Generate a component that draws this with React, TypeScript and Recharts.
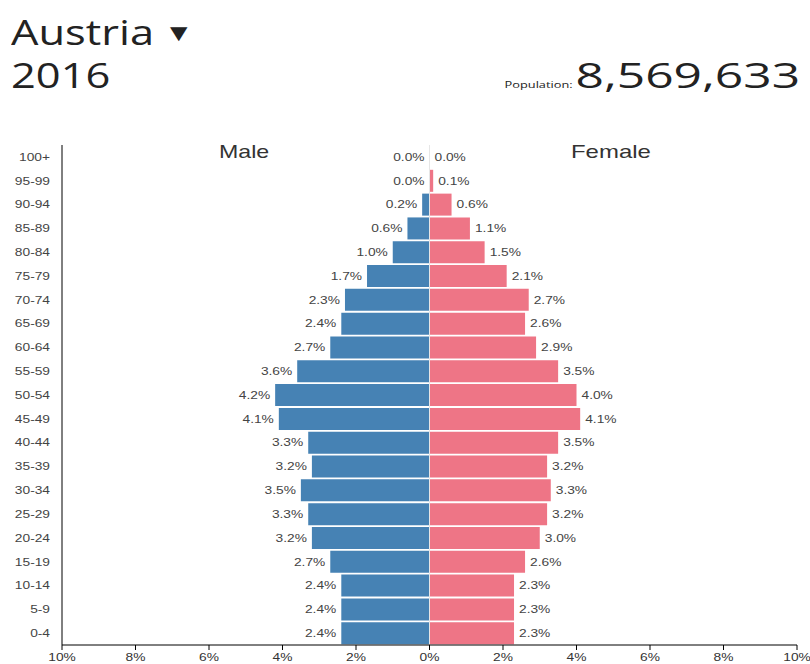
import React from "react";
import {
  ComposedChart,
  Bar,
  Line,
  XAxis,
  YAxis,
  ReferenceLine,
  LabelList,
} from "recharts";

const ageGroups = [
  "100+", "95-99", "90-94", "85-89", "80-84", "75-79", "70-74", "65-69", "60-64",
  "55-59", "50-54", "45-49", "40-44", "35-39", "30-34", "25-29", "20-24", "15-19",
  "10-14", "5-9", "0-4",
];
const maleValues = [
  0.0, 0.0, 0.2, 0.6, 1.0, 1.7, 2.3, 2.4, 2.7, 3.6, 4.2, 4.1, 3.3, 3.2, 3.5, 3.3, 3.2,
  2.7, 2.4, 2.4, 2.4,
];
const femaleValues = [
  0.0, 0.1, 0.6, 1.1, 1.5, 2.1, 2.7, 2.6, 2.9, 3.5, 4.0, 4.1, 3.5, 3.2, 3.3, 3.2, 3.0,
  2.6, 2.3, 2.3, 2.3,
];
const xTicks = [-10, -8, -6, -4, -2, 0, 2, 4, 6, 8, 10];

const countryName = "Austria";
const yearLabel = "2016";
const populationLabel = "Population:";
const populationValue = "8,569,633";

const data = ageGroups.map((age, i) => ({
  age,
  male: -maleValues[i],
  female: femaleValues[i],
}));

const MALE_COLOR = "#4682b4";
const FEMALE_COLOR = "#ee7586";
const FONT = "'Liberation Sans', Arial, sans-serif";
const TITLE_FONT = "'Open Sans', 'Noto Sans', sans-serif";
const STRETCH = 1.25;

const StretchText = ({ x, y, anchor, size, fill, children, dy = "0.35em" }: any) => (
  <g transform={`translate(${x},${y}) scale(${STRETCH},1)`}>
    <text
      x={0}
      y={0}
      dy={dy}
      textAnchor={anchor}
      fontSize={size}
      fill={fill}
      fontFamily={FONT}
    >
      {children}
    </text>
  </g>
);

const MaleLabel = (props: any) => {
  const { x, y, value } = props;
  return (
    <StretchText x={x - 5} y={y} anchor="end" size={11} fill="#444">
      {Math.abs(value).toFixed(1) + "%"}
    </StretchText>
  );
};

const FemaleLabel = (props: any) => {
  const { x, y, value } = props;
  return (
    <StretchText x={x + 5} y={y} anchor="start" size={11} fill="#444">
      {Math.abs(value).toFixed(1) + "%"}
    </StretchText>
  );
};

const XTick = (props: any) => {
  const { x, y, payload } = props;
  return (
    <StretchText x={x} y={y + 1} anchor="middle" size={11} fill="#333" dy="0.71em">
      {Math.abs(payload.value) + "%"}
    </StretchText>
  );
};

const YTick = (props: any) => {
  const { x, y, payload } = props;
  return (
    <StretchText x={x} y={y} anchor="end" size={11} fill="#444">
      {payload.value}
    </StretchText>
  );
};

export default function App() {
  return (
    <div
      style={{
        position: "absolute",
        left: 0,
        top: 0,
        width: 810,
        height: 664,
        background: "#fff",
        overflow: "hidden",
      }}
    >
      <div
        style={{
          position: "absolute",
          left: 11,
          top: 11,
          fontFamily: TITLE_FONT,
          fontSize: 35,
          color: "#222",
          lineHeight: "42px",
          transform: "scaleX(1.24)",
          transformOrigin: "left top",
          whiteSpace: "nowrap",
        }}
      >
        {countryName}
        <span style={{ fontSize: 24, marginLeft: 8, position: "relative", top: -4 }}>▼</span>
      </div>
      <div
        style={{
          position: "absolute",
          left: 11,
          top: 54,
          fontFamily: TITLE_FONT,
          fontSize: 35,
          color: "#222",
          lineHeight: "42px",
          transform: "scaleX(1.24)",
          transformOrigin: "left top",
          whiteSpace: "nowrap",
        }}
      >
        {yearLabel}
      </div>
      <div
        style={{
          position: "absolute",
          right: 10,
          top: 54,
          fontFamily: TITLE_FONT,
          color: "#222",
          lineHeight: "42px",
          transform: "scaleX(1.42)",
          transformOrigin: "right top",
          whiteSpace: "nowrap",
        }}
      >
        <span style={{ fontSize: 9, marginRight: 2 }}>{populationLabel}</span>
        <span style={{ fontSize: 35 }}>{populationValue}</span>
      </div>
      <div
        style={{
          position: "absolute",
          left: 219,
          top: 141,
          fontFamily: FONT,
          fontSize: 19,
          color: "#333",
          transform: "scaleX(1.22)",
          transformOrigin: "left top",
        }}
      >
        Male
      </div>
      <div
        style={{
          position: "absolute",
          left: 571,
          top: 141,
          fontFamily: FONT,
          fontSize: 19,
          color: "#333",
          transform: "scaleX(1.26)",
          transformOrigin: "left top",
        }}
      >
        Female
      </div>
      <div style={{ position: "absolute", left: 0, top: 0 }}>
        <ComposedChart
          width={810}
          height={664}
          data={data}
          layout="vertical"
          stackOffset="sign"
          barCategoryGap={1}
          margin={{ top: 145, right: 13, bottom: 0, left: 0 }}
        >
          <ReferenceLine x={0} stroke="#e6e6e6" strokeWidth={1} />
          <XAxis
            type="number"
            domain={[-10, 10]}
            ticks={xTicks}
            height={19}
            stroke="#000"
            tickSize={5}
            tickMargin={2}
            tick={<XTick />}
            interval={0}
          />
          <YAxis
            type="category"
            dataKey="age"
            width={62}
            stroke="#000"
            tickLine={false}
            tickMargin={6}
            tick={<YTick />}
            interval={0}
          />
          <Bar dataKey="male" stackId="a" fill={MALE_COLOR} isAnimationActive={false} />
          <Bar dataKey="female" stackId="a" fill={FEMALE_COLOR} isAnimationActive={false} />
          <Line
            dataKey="male"
            stroke="none"
            dot={false}
            activeDot={false}
            isAnimationActive={false}
            legendType="none"
          >
            <LabelList dataKey="male" content={MaleLabel} />
          </Line>
          <Line
            dataKey="female"
            stroke="none"
            dot={false}
            activeDot={false}
            isAnimationActive={false}
            legendType="none"
          >
            <LabelList dataKey="female" content={FemaleLabel} />
          </Line>
        </ComposedChart>
      </div>
    </div>
  );
}
